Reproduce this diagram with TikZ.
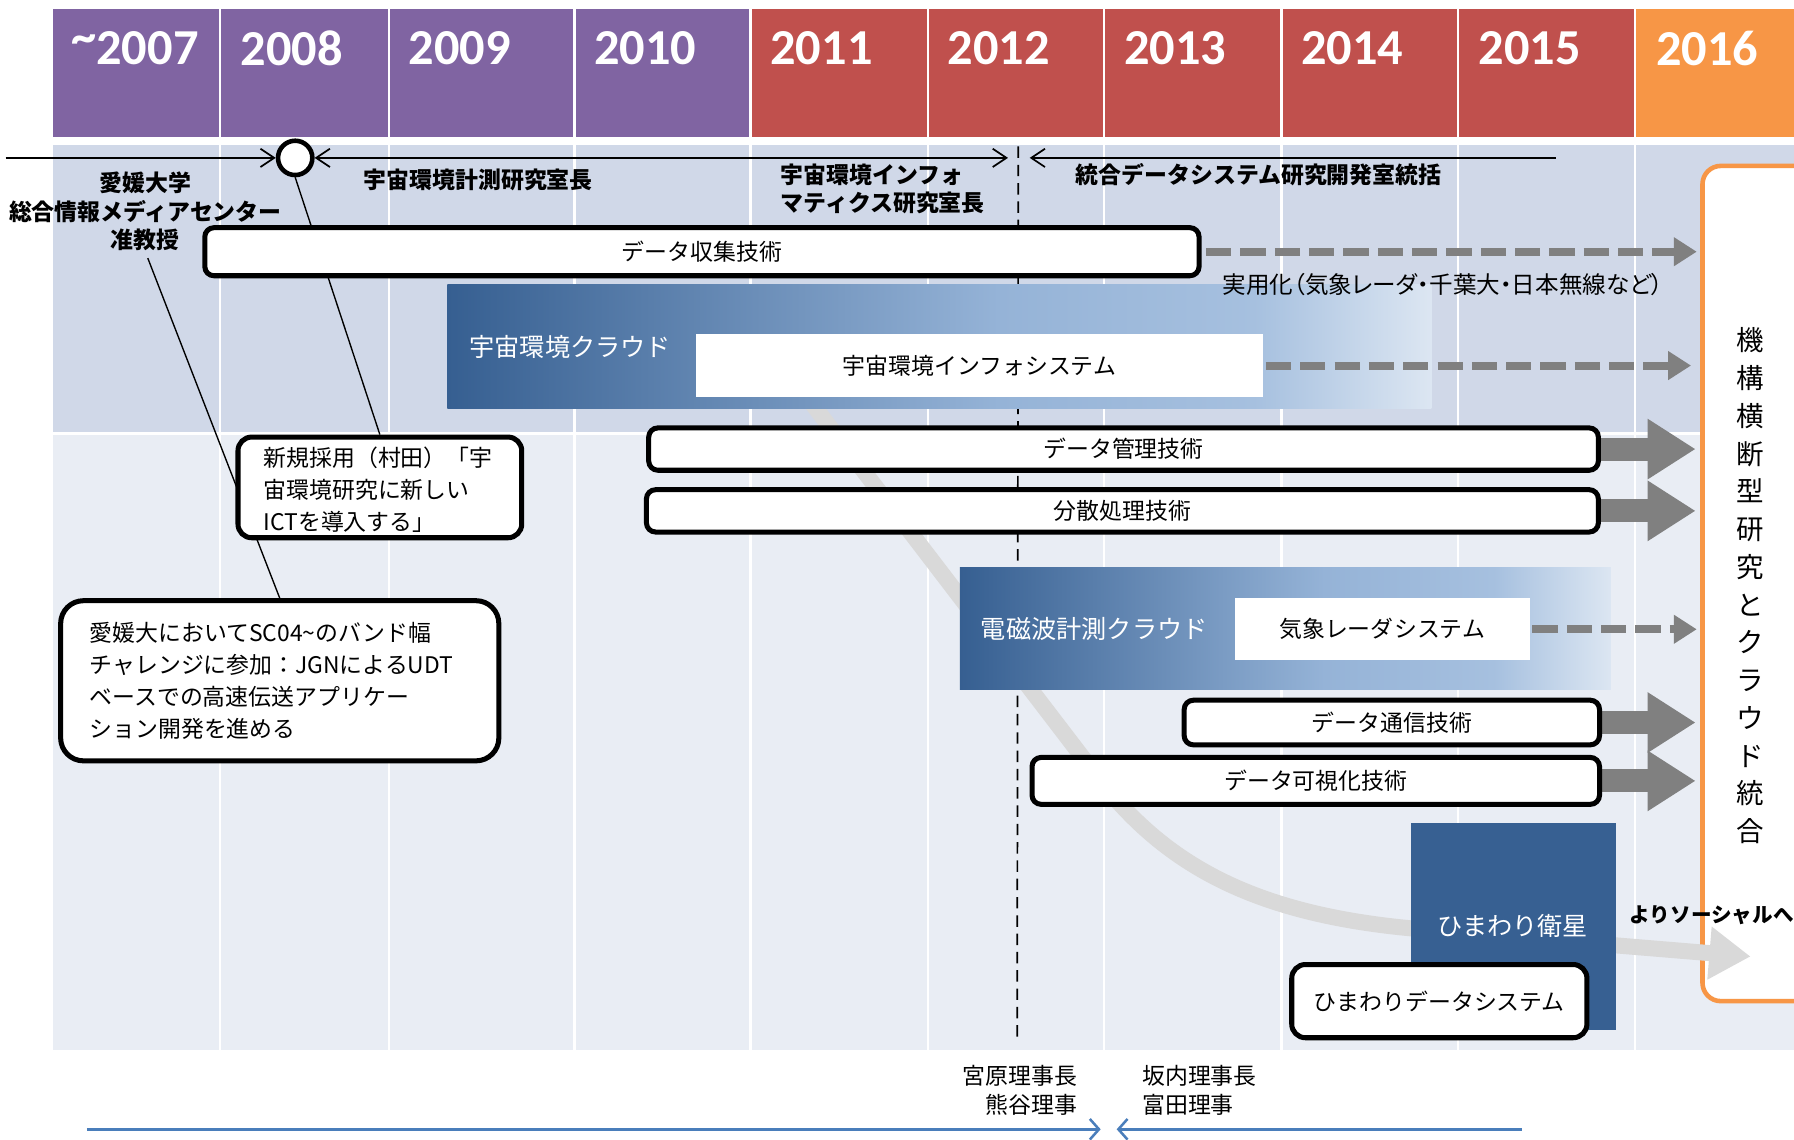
\documentclass[tikz,border=0pt]{standalone}
\usepackage{fontspec}
\setmainfont{Noto Sans CJK JP}
\newfontfamily\yearfont{Carlito}
\newfontfamily\jpprop{Noto Sans CJK JP}[RawFeature=+palt]
\usetikzlibrary{arrows.meta,fit}
\definecolor{purp}{HTML}{8064A2}
\definecolor{redc}{HTML}{C0504D}
\definecolor{orgc}{HTML}{F79646}
\definecolor{bandA}{HTML}{D0D8E8}
\definecolor{bandB}{HTML}{E9EDF4}
\definecolor{agrey}{HTML}{808080}
\definecolor{cgrey}{HTML}{D9D9D9}
\definecolor{cA}{HTML}{365F91}
\definecolor{cB}{HTML}{95B3D7}
\definecolor{cC}{HTML}{A6C0DF}
\definecolor{cD}{HTML}{DCE6F2}
\definecolor{hwc}{HTML}{376092}
\definecolor{lineblue}{HTML}{4A7EBB}
\pgfdeclarehorizontalshading{cloudsh}{100bp}{color(0bp)=(cA); color(25bp)=(cA); color(53bp)=(cB); color(66bp)=(cC); color(75bp)=(cD); color(100bp)=(cD)}
\pgfdeclarelayer{back}
\pgfdeclarelayer{mid}
\pgfsetlayers{back,mid,main}
\tikzset{
  yearlbl/.style={font=\yearfont\bfseries\fontsize{22pt}{22pt}\selectfont, text=white, inner sep=0pt, anchor=west},
  boldlbl/.style={font=\bfseries\fontsize{10pt}{12.5pt}\selectfont, inner sep=0pt},
  txt/.style={font=\fontsize{10pt}{14pt}\selectfont, inner sep=0pt},
  whitetitle/.style={font=\fontsize{11pt}{13pt}\selectfont, text=white, inner sep=0pt},
  jbox/.style={draw=black, line width=2.2pt, rounded corners=4pt, fill=white, inner sep=0pt},
  wbox/.style={fill=white, inner sep=0pt},
  cloud/.style={shade, shading=cloudsh, inner sep=0pt},
  bigarrow/.style={draw=agrey, line width=10pt, -{Triangle[width=25pt,length=21pt]}, shorten >=2pt},
  dasharrow/.style={draw=agrey, line width=3.5pt, dash pattern=on 11pt off 4pt, -{Triangle[width=12pt,length=10pt]}},
  tline/.style={draw=black, line width=0.75pt},
  barb/.tip={Straight Barb[length=6pt,width=8pt]},
  conn/.style={draw=black, line width=0.6pt},
  blueln/.style={draw=lineblue, line width=1.1pt, -{Straight Barb[length=4pt,width=9pt]}}
}
\begin{document}
\begin{tikzpicture}[x=0.5pt,y=-0.5pt]
\clip (0,0) rectangle (1568,996);
\begin{pgfonlayer}{back}
\fill[white] (0,0) rectangle (1568,996);
\foreach \xa/\xb/\cc in {46/192/purp,192/340/purp,340/502/purp,502/656/purp,656/811/redc,811/965/redc,965/1120/redc,1120/1274/redc,1274/1429/redc,1429/1568/orgc}
  \fill[\cc] (\xa,8) rectangle (\xb,120);
\fill[bandA] (46,127) rectangle (1568,378);
\fill[bandB] (46,380) rectangle (1568,918);
\foreach \xx in {192,340,502,656,811,965,1120,1274,1429}
  \draw[white, line width=1pt] (\xx,8) -- (\xx,918);
\end{pgfonlayer}

% year labels
\node[yearlbl] (y07) at (62,42) {\raisebox{.22em}{\textasciitilde}2007};
\node[yearlbl] (y08) at (210,42) {2008};
\node[yearlbl] (y09) at (357,42) {2009};
\node[yearlbl] (y10) at (519,42) {2010};
\node[yearlbl] (y11) at (673,42) {2011};
\node[yearlbl] (y12) at (828,42) {2012};
\node[yearlbl] (y13) at (982,42) {2013};
\node[yearlbl] (y14) at (1137,42) {2014};
\node[yearlbl] (y15) at (1292,42) {2015};
\node[yearlbl] (y16) at (1447,42) {2016};

% orange box and vertical text
\begin{pgfonlayer}{mid}
\node[draw=orgc, line width=2pt, fill=white, rounded corners=8pt, inner sep=0pt, fit={(1488,145) (1640,875)}] (og) {};
\end{pgfonlayer}
\node[font=\fontsize{12pt}{16.5pt}\selectfont, align=center, inner sep=0pt] (vt) at (1530,512) {機\\構\\横\\断\\型\\研\\究\\と\\ク\\ラ\\ウ\\ド\\統\\合};

% timeline
\coordinate (tl0) at (5,138);
\coordinate (t1) at (881,138);
\coordinate (t2) at (900,138);
\coordinate (t3) at (1360,138);
\node[circle, draw=black, line width=2pt, fill=white, minimum size=15pt, inner sep=0pt] (circ) at (258,138) {};
\draw[tline, -{barb}] (tl0) -- (circ.west);
\draw[tline, {barb}-{barb}] (circ.east) -- (t1);
\draw[tline, {barb}-] (t2) -- (t3);

% labels
\node[boldlbl, align=center] (ehime) at (127,185) {愛媛大学\\総合情報メディアセンター\\准教授};
\node[boldlbl] (lab1) at (418,157) {宇宙環境計測研究室長};
\node[boldlbl, anchor=west, align=left] (lab2) at (682,165) {宇宙環境インフォ\\マティクス研究室長};
\node[boldlbl, anchor=west] (lab3) at (940,153) {統合データシステム研究開発室統括};

% boxes
\node[jbox, fit={(179,199) (1048,241)}] (dc) {};
\node[txt] (dct) at (dc.center) {データ収集技術};
\node[cloud, fit={(391,249) (1251,357)}] (cl1) {};
\node[whitetitle, anchor=west] (cl1t) at (410,303) {宇宙環境クラウド};
\node[wbox, fit={(608,292) (1104,347)}] (info) {};
\node[txt] (infot) at (info.center) {宇宙環境インフォシステム};
\node[txt, font=\jpprop\fontsize{10.3pt}{12pt}\selectfont] (jy) at (1261,249) {実用化（気象レーダ・千葉大・日本無線など）};

\node[jbox, fit={(567,374) (1397,411)}] (dm) {};
\node[txt] (dmt) at (dm.center) {データ管理技術};
\node[jbox, fit={(565,428) (1397,465)}] (bs) {};
\node[txt] (bst) at (bs.center) {分散処理技術};

\node[cloud, fit={(839,496) (1408,603)}] (cl2) {};
\node[whitetitle, anchor=west] (cl2t) at (857,550) {電磁波計測クラウド};
\node[wbox, fit={(1079,523) (1337,577)}] (wr) {};
\node[txt] (wrt) at (wr.center) {気象レーダシステム};

\node[jbox, fit={(1035,612) (1398,651)}] (ts) {};
\node[txt] (tst) at (ts.center) {データ通信技術};
\node[jbox, fit={(902,662) (1398,703)}] (ks) {};
\node[txt] (kst) at (ks.center) {データ可視化技術};

\node[fill=hwc, inner sep=0pt, fit={(1233,719) (1412,900)}] (hw) {};
\node[whitetitle] (hwt) at (1322,809) {ひまわり衛星};
\node[jbox, rounded corners=6pt, fit={(1129,843) (1387,907)}] (hd) {};
\node[txt] (hdt) at (hd.center) {ひまわりデータシステム};

\draw[dasharrow, shorten <=2pt, shorten >=1.5pt] (dc.east) -- (dc.east -| og.west);
\draw[dasharrow, shorten <=1pt, shorten >=4pt] (info.east) -- (info.east -| og.west);
\draw[dasharrow, shorten <=1pt, shorten >=1.5pt] (wr.east) -- (wr.east -| og.west);

% callouts
\node[jbox, rounded corners=6pt, fit={(208,382) (456,470)}] (ca) {};
\node[txt, anchor=west, align=left] (cat) at (230,428) {新規採用（村田）「宇\\宙環境研究に新しい\\ICTを導入する」};
\node[jbox, rounded corners=10pt, fit={(53,525) (436,665)}] (cb) {};
\node[txt, anchor=west, align=left] (cbt) at (78,595) {愛媛大においてSC04\textasciitilde のバンド幅\\チャレンジに参加：JGNによるUDT\\ベースでの高速伝送アプリケー\\ション開発を進める};

% background-layer connectors and curve
\coordinate (d1) at (890,128);
\coordinate (d2) at (889,906);
\coordinate (gc0) at (700,340);
\coordinate (gc1) at (960,680);
\coordinate (gc2) at (1240,812);
\coordinate (gc3) at (1530,836);
\begin{pgfonlayer}{mid}
\draw[cgrey, line width=7pt, -{Triangle[width=22pt,length=18pt]}] (gc0) -- (gc1) .. controls (1020,758) and (1100,800) .. (gc2) -- (gc3);
\draw[conn] (circ.south) -- (ca.north);
\draw[conn, shorten <=3pt] (ehime.south) -- (cb.north);
\draw[black, line width=0.75pt, dash pattern=on 5pt off 3pt] (d1) -- (d2);
\draw[bigarrow] (dm.east) -- (dm.east -| og.west);
\draw[bigarrow] (bs.east) -- (bs.east -| og.west);
\draw[bigarrow] (ts.east) -- (ts.east -| og.west);
\draw[bigarrow] (ks.east) -- (ks.east -| og.west);
\end{pgfonlayer}

\node[boldlbl, font=\bfseries\fontsize{9pt}{11pt}\selectfont, anchor=west] (soc) at (1424,800) {よりソーシャルへ};

% bottom
\node[txt, font=\fontsize{10pt}{12.5pt}\selectfont, align=right, anchor=east] (bl) at (942,953) {宮原理事長\\熊谷理事};
\node[txt, font=\fontsize{10pt}{12.5pt}\selectfont, align=left, anchor=west] (br) at (998,953) {坂内理事長\\富田理事};
\coordinate (b1s) at (76,987);
\coordinate (b1e) at (962,987);
\coordinate (b2s) at (1330,987);
\coordinate (b2e) at (976,987);
\draw[blueln] (b1s) -- (b1e);
\draw[blueln] (b2s) -- (b2e);
\end{tikzpicture}
\end{document}
